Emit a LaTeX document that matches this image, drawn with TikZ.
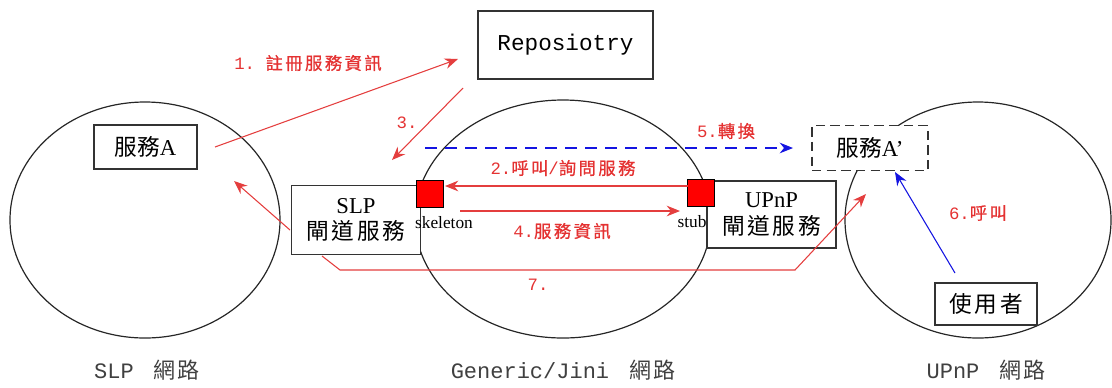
\documentclass[tikz,border=0pt]{standalone}
\usepackage{fontspec}
\setmainfont{Liberation Serif}
\setmonofont{Liberation Mono}
\newfontfamily\cjk{Noto Sans CJK TC}
\newfontfamily\cjksp[LetterSpace=12]{Noto Sans CJK TC}
\newfontfamily\cjklbl[LetterSpace=14,FakeBold=0.8]{Noto Sans CJK TC}
\newfontfamily\cjknet[LetterSpace=10]{Noto Sans CJK TC}
\usetikzlibrary{arrows.meta,calc}

\definecolor{lblred}{RGB}{228,50,50}
\definecolor{arrred}{RGB}{228,62,62}
\definecolor{arrblue}{RGB}{20,20,225}

\begin{document}
\begin{tikzpicture}[x=0.75pt,y=-0.75pt,
  net/.style={draw=black!85, line width=0.9pt},
  box/.style={draw=black!80, line width=1.1pt, fill=white, inner sep=0pt, align=center,
              font=\fontsize{17}{21}\selectfont},
  port/.style={draw=black, line width=0.8pt, fill=red, minimum size=20.5pt, inner sep=0pt},
  redarr/.style={draw=arrred, line width=0.8pt, -{Stealth[length=10pt,width=8pt]}},
  bluearr/.style={draw=arrblue, line width=0.8pt, -{Stealth[length=10pt,width=8pt]}},
  lbl/.style={text=lblred, inner sep=0pt, font=\ttfamily\fontsize{13}{15}\selectfont},
  tag/.style={inner sep=0pt, font=\fontsize{13}{14}\selectfont},
  netname/.style={inner sep=0pt, text=black!75, font=\ttfamily\fontsize{16.5}{18}\selectfont},
]
\useasboundingbox (0,0) rectangle (1112,387);

% the three networks
\draw[net] (145,220) ellipse [x radius=135, y radius=118];
\draw[net] (563,219) ellipse [x radius=148, y radius=119];
\draw[net] (978,220) ellipse [x radius=133, y radius=118];

% services, gateways and registry
\node[box, minimum width=175*0.75pt, minimum height=68*0.75pt, font=\ttfamily\fontsize{17}{20}\selectfont]
  (repo) at (565.5,45) {Reposiotry};
\node[box, minimum width=103*0.75pt, minimum height=44*0.75pt] (svcA) at (145.5,147) {{\cjk 服務}A};
\node[box, minimum width=129*0.75pt, minimum height=69*0.75pt] (slp) at (356,220)
  {SLP\\[-1pt]{\cjksp 閘道服務}};
\node[box, minimum width=129*0.75pt, minimum height=67*0.75pt] (upnp) at (771.5,214.5)
  {UPnP\\[-1pt]{\cjksp 閘道服務}};
\node[box, dashed, dash pattern=on 7pt off 4pt, minimum width=116*0.75pt, minimum height=45*0.75pt]
  (svcAp) at (870,148) {{\cjk 服務}A'};
\node[box, minimum width=102*0.75pt, minimum height=42*0.75pt] (user) at (986,304) {{\cjksp 使用者}};

% skeleton / stub ports
\node[port] (skel) at (430,194) {};
\node[port] (stub) at (701,193) {};
\node[tag, anchor=north] (skellbl) at ($(skel.south)+(14,8)$) {skeleton};
\node[tag, anchor=north] (stublbl) at ($(stub.south)+(-9,8)$) {stub};

% connector end points
\coordinate (a1s) at (215,147);
\coordinate (a1e) at (458,59);
\coordinate (a3s) at (463,88);
\coordinate (a3e) at (392,160);
\coordinate (a2s) at (688,186);
\coordinate (a2e) at (445,186);
\coordinate (a4s) at (460,211);
\coordinate (a4e) at (680,211);
\coordinate (a5s) at (425,148);
\coordinate (a5e) at (793,148);
\coordinate (a6s) at (955,273);
\coordinate (a6e) at (895,172);
\coordinate (a7s) at (322,256);
\coordinate (a7a) at (340,270);
\coordinate (a7b) at (795,270);
\coordinate (a7e) at (866,194);
\coordinate (a0s) at (290,230);
\coordinate (a0e) at (234,181);

% message flow
\draw[redarr] (a1s) -- (a1e);
\draw[redarr] (a3s) -- (a3e);
\draw[redarr] (a2s) -- (a2e);
\draw[redarr] (a4s) -- (a4e);
\draw[redarr] (a0s) -- (a0e);
\draw[redarr] (a7s) -- (a7a) -- (a7b) -- (a7e);
\draw[bluearr, dash pattern=on 9pt off 6pt] (a5s) -- (a5e);
\draw[bluearr] (a6s) -- (a6e);

% step labels
\node[lbl] (l1) at (308,63) {1. {\cjklbl 註冊服務資訊}};
\node[lbl] (l3) at (407,123) {3.};
\node[lbl] (l2) at (563,168) {2.{\cjklbl 呼叫}/{\cjklbl 詢問服務}};
\node[lbl] (l4) at (562,231) {4.{\cjklbl 服務資訊}};
\node[lbl] (l5) at (726,131) {5.{\cjklbl 轉換}};
\node[lbl] (l6) at (978,213) {6.{\cjklbl 呼叫}};
\node[lbl] (l7) at (538,285) {7.};

% network names
\node[netname] (n1) at (147,370) {SLP\hspace{0.3em} {\cjknet 網路}};
\node[netname] (n2) at (563,370) {Generic/Jini\hspace{0.3em} {\cjknet 網路}};
\node[netname] (n3) at (986,370) {UPnP\hspace{0.3em} {\cjknet 網路}};
\end{tikzpicture}
\end{document}
